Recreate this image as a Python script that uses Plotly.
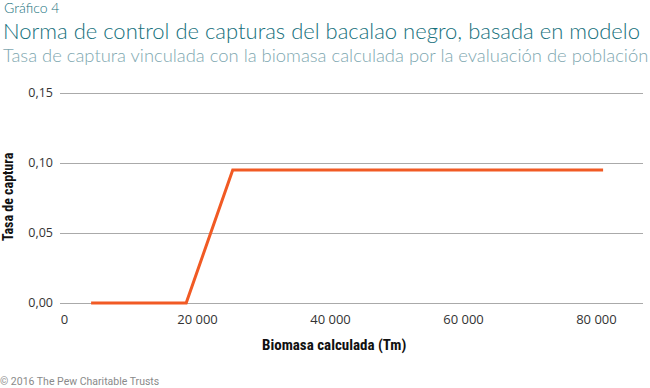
import plotly.graph_objects as go

# Data
biomass = [4000, 18300, 25300, 81000]
capture_rate = [0.0, 0.0, 0.095, 0.095]
y_ticks = [0.0, 0.05, 0.10, 0.15]
x_ticks = [0, 20000, 40000, 60000, 80000]

title_color = "#16707c"
sub_color = "#7ea7b0"
line_color = "#f15a24"

fig = go.Figure()
fig.add_trace(go.Scatter(
    x=biomass, y=capture_rate, mode="lines",
    line=dict(color=line_color, width=3),
    cliponaxis=False, hoverinfo="skip", showlegend=False,
))

T, B, L, R = 86, 78, 60, 7
H = 388 - T - B
W = 650 - L - R
top = 1 + T / H
left = -L / W

fig.update_layout(
    width=650, height=388,
    margin=dict(l=L, r=R, t=T, b=B),
    paper_bgcolor="white", plot_bgcolor="white",
    separators=", ",
    font=dict(family="Open Sans, sans-serif", size=12, color="#333333"),
    xaxis=dict(
        range=[-677, 87000], tickvals=x_ticks, tickformat=",d",
        showgrid=False, zeroline=False, showline=False, ticks="",
        tickfont=dict(size=13, color="#333333"),
    ),
    yaxis=dict(
        range=[-0.005, 0.155], tickvals=y_ticks, tickformat=".2f",
        showgrid=True, gridcolor="#aaaaaa", gridwidth=1,
        zeroline=False, showline=False, ticks="",
        ticklabelstandoff=6,
        tickfont=dict(size=12.5, color="#333333"),
    ),
    annotations=[
        dict(text="Gráfico 4", xref="paper", yref="paper", x=left, y=top,
             xanchor="left", yanchor="top", showarrow=False, xshift=2, yshift=3,
             font=dict(family="Lato", size=14, color=title_color, weight=300)),
        dict(text="Norma de control de capturas del bacalao negro, basada en modelo",
             xref="paper", yref="paper", x=left, y=top,
             xanchor="left", yanchor="top", showarrow=False, xshift=1, yshift=-15,
             font=dict(family="Lato", size=22, color=title_color, weight=300)),
        dict(text="Tasa de captura vinculada con la biomasa calculada por la evaluación de población",
             xref="paper", yref="paper", x=left, y=top,
             xanchor="left", yanchor="top", showarrow=False, xshift=1, yshift=-42,
             font=dict(family="Lato", size=18.4, color=sub_color, weight=300)),
        dict(text="<b>Tasa de captura</b>", xref="paper", yref="paper",
             x=left, y=(310 - 197) / H, xshift=8, xanchor="center", yanchor="middle",
             textangle=-90, showarrow=False,
             font=dict(family="Liberation Sans Narrow, Roboto Condensed, Roboto", size=14, color="#111111")),
        dict(text="<b>Biomasa calculada (Tm)</b>", xref="paper", yref="paper",
             x=(334 - L) / W, y=0, yshift=-35, xanchor="center", yanchor="middle",
             showarrow=False,
             font=dict(family="Liberation Sans Narrow, Roboto Condensed, Roboto", size=15, color="#111111")),
        dict(text="© 2016 The Pew Charitable Trusts", xref="paper", yref="paper",
             x=left, y=0, yshift=-71, xanchor="left", yanchor="middle",
             showarrow=False, xshift=-2,
             font=dict(family="Liberation Sans Narrow, Roboto", size=10.5, color="#8a8a8a")),
    ],
)

fig.write_html("out.html", config={"displayModeBar": False},
               post_script="document.body.style.margin='0';")
